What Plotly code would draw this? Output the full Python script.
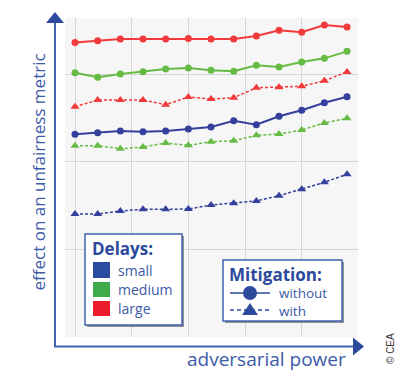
import plotly.graph_objects as go

# ---- data ----
x_steps = list(range(13))
large_without = [3.36, 3.38, 3.40, 3.40, 3.40, 3.405, 3.40, 3.40, 3.434, 3.50, 3.477, 3.56, 3.537]
medium_without = [3.015, 2.962, 3.00, 3.026, 3.057, 3.069, 3.042, 3.031, 3.099, 3.08, 3.137, 3.179, 3.259]
large_with = [2.626, 2.703, 2.703, 2.703, 2.649, 2.737, 2.714, 2.729, 2.843, 2.848, 2.859, 2.923, 3.023]
small_without = [2.311, 2.329, 2.349, 2.341, 2.349, 2.371, 2.394, 2.466, 2.421, 2.517, 2.585, 2.672, 2.741]
medium_with = [2.181, 2.181, 2.146, 2.166, 2.211, 2.185, 2.226, 2.238, 2.299, 2.314, 2.36, 2.44, 2.494]
small_with = [1.40, 1.40, 1.434, 1.454, 1.454, 1.457, 1.503, 1.522, 1.549, 1.609, 1.682, 1.762, 1.854]

delay_labels = ["small", "medium", "large"]
mitigation_labels = ["without", "with"]

RED = "#f03a3c"
GREEN = "#66bb44"
BLUE = "#34409c"
AXIS = "#4262b2"
TEXT = "#3c5aa8"
TITLE = "#2c4a9c"
FONT = "Open Sans"

WIN_W, WIN_H, OFF = 405, 372, 8  # page body margin offsets the figure by 8px
L, R, T, B = 65, 358, 18, 337     # plot area in window pixels

fig = go.Figure()

series = [
    (large_without, RED, "solid", "circle"),
    (medium_without, GREEN, "solid", "circle"),
    (small_without, BLUE, "solid", "circle"),
    (large_with, RED, "3px,2px", "triangle-up"),
    (medium_with, GREEN, "3px,2px", "triangle-up"),
    (small_with, BLUE, "3px,2px", "triangle-up"),
]
for ys, col, dash, sym in series:
    fig.add_trace(go.Scatter(
        x=x_steps, y=ys, mode="lines+markers",
        line=dict(color=col, width=2 if dash == "solid" else 1.5, dash=dash),
        marker=dict(symbol=sym, size=7 if sym == "circle" else 8, color=col),
        showlegend=False, hoverinfo="skip"))

def px(x):
    return (x - L) / (R - L)

def py(y):
    return (B - y) / (B - T)

shapes = []
ann = []

# axes with arrows
shapes.append(dict(type="line", xref="paper", yref="paper", x0=px(55), x1=px(55), y0=py(347), y1=py(22),
                   line=dict(color=AXIS, width=2)))
shapes.append(dict(type="path", xref="paper", yref="paper",
                   path=f"M {px(46)} {py(23)} L {px(64)} {py(23)} L {px(55)} {py(12)} Z",
                   fillcolor=TITLE, line=dict(width=0)))
shapes.append(dict(type="line", xref="paper", yref="paper", x0=px(54), x1=px(354), y0=py(346.5), y1=py(346.5),
                   line=dict(color=AXIS, width=2)))
shapes.append(dict(type="path", xref="paper", yref="paper",
                   path=f"M {px(353)} {py(337.5)} L {px(353)} {py(355.5)} L {px(364)} {py(346.5)} Z",
                   fillcolor=TITLE, line=dict(width=0)))

def box(x0, y0, x1, y1):
    shapes.append(dict(type="rect", xref="paper", yref="paper", x0=px(x0 + 2), x1=px(x1 + 2),
                       y0=py(y0 + 2), y1=py(y1 + 2), fillcolor="rgba(60,60,70,0.55)", line=dict(width=0)))
    shapes.append(dict(type="rect", xref="paper", yref="paper", x0=px(x0), x1=px(x1),
                       y0=py(y0), y1=py(y1), fillcolor="white", line=dict(color=AXIS, width=1.5)))

def text(x, y, s, size, bold=False, color=TEXT):
    ann.append(dict(xref="paper", yref="paper", x=px(x), y=py(y), text=f"<b>{s}</b>" if bold else s,
                    showarrow=False, xanchor="left", yanchor="middle",
                    font=dict(family=FONT, size=size, color=color)))

# Delays legend
box(85, 234, 182, 325)
text(90, 248, "Delays:", 17, bold=True, color=TITLE)
sq_cols = ["#2a4b9f", "#3dab4a", "#ec1c2c"]
sq_y = [(262, 278), (282, 297), (301, 316)]
for lab, c, (a, b) in zip(delay_labels, sq_cols, sq_y):
    shapes.append(dict(type="rect", xref="paper", yref="paper", x0=px(93), x1=px(110), y0=py(a), y1=py(b),
                       fillcolor=c, line=dict(width=0)))
    text(116, (a + b) / 2, lab, 14)

# Mitigation legend
box(223, 260, 342, 321)
text(227, 274, "Mitigation:", 17, bold=True, color=TITLE)
shapes.append(dict(type="line", xref="paper", yref="paper", x0=px(230), x1=px(270), y0=py(293), y1=py(293),
                   line=dict(color=TITLE, width=1.5)))
shapes.append(dict(type="circle", xref="paper", yref="paper", x0=px(243), x1=px(257), y0=py(286), y1=py(300),
                   fillcolor=TITLE, line=dict(width=0)))
shapes.append(dict(type="line", xref="paper", yref="paper", x0=px(230), x1=px(270), y0=py(310), y1=py(310),
                   line=dict(color=TITLE, width=1.5, dash="4px,3px")))
shapes.append(dict(type="path", xref="paper", yref="paper",
                   path=f"M {px(242)} {py(315)} L {px(258)} {py(315)} L {px(250)} {py(303)} Z",
                   fillcolor=TITLE, line=dict(width=0)))
text(277, 293, mitigation_labels[0], 13.5)
text(277, 311, mitigation_labels[1], 13.5)

# axis titles
ann.append(dict(xref="paper", yref="paper", x=px(37.5), y=py(172), text="effect on an unfairness metric",
                showarrow=False, textangle=-90, xanchor="center", yanchor="middle",
                font=dict(family=FONT, size=17, color=TEXT)))
ann.append(dict(xref="paper", yref="paper", x=px(348), y=py(359), text="adversarial power",
                showarrow=False, xanchor="right", yanchor="middle",
                font=dict(family=FONT, size=19, color=TEXT)))
ann.append(dict(xref="paper", yref="paper", x=px(390), y=py(349), text="© CEA",
                showarrow=False, textangle=-90, xanchor="center", yanchor="middle",
                font=dict(family="Liberation Sans", size=10, color="#333333")))

fig.update_layout(
    width=WIN_W - OFF, height=WIN_H - OFF,
    margin=dict(l=L - OFF, r=WIN_W - R, t=T - OFF, b=WIN_H - B, pad=0),
    paper_bgcolor="white", plot_bgcolor="#f6f6f6",
    shapes=shapes, annotations=ann,
    xaxis=dict(range=[(L - 75) / 22.67, (R - 75) / 22.67], tickvals=[0, 2.5, 5, 7.5, 10],
               showticklabels=False, gridcolor="#d6d6d6", gridwidth=1, zeroline=False, showline=False),
    yaxis=dict(range=[(336.5 - B) / 87.5, (336.5 - T) / 87.5], tickvals=[1, 2, 3],
               showticklabels=False, gridcolor="#d6d6d6", gridwidth=1, zeroline=False, showline=False),
)

fig.write_html("out.html")
